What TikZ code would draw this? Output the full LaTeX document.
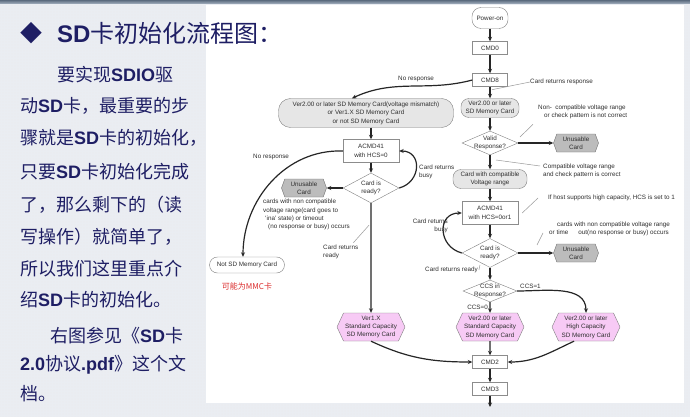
\documentclass[tikz,border=0pt]{standalone}
\usepackage{fontspec}
\setmainfont{Liberation Sans}
\newfontfamily\cjk{Noto Sans CJK SC}
\usetikzlibrary{positioning,shapes.geometric,shapes.symbols,arrows.meta,patterns}

\definecolor{slidenavy}{RGB}{30,30,100}
\definecolor{slidebg}{RGB}{234,237,242}
\definecolor{slidebar}{RGB}{112,132,156}
\definecolor{capsgray}{RGB}{230,230,230}
\definecolor{unusegray}{RGB}{188,188,188}
\definecolor{cardpink}{RGB}{247,202,245}
\definecolor{mmcred}{RGB}{220,45,45}

\newcommand\sdb[1]{{\normalfont\bfseries #1}}

\begin{document}
\begin{tikzpicture}[x=1pt,y=1pt,on grid,
    every node/.style={font=\fontsize{6.3}{8.4}\selectfont,text=black!82},
    cmdbox/.style={draw=black!45,fill=white,minimum width=35pt,minimum height=13pt,inner sep=1pt},
    ackbox/.style={draw=black!45,fill=white,minimum width=56pt,minimum height=23pt,inner sep=1pt,align=center},
    caps/.style={draw=black!50,fill=capsgray,rounded corners=8pt,inner sep=1pt,align=center},
    query/.style={diamond,aspect=2.3,draw=black!50,fill=white,inner sep=-5pt,minimum width=56pt,minimum height=26pt,align=center,font=\fontsize{6.3}{7.6}\selectfont},
    unusable/.style={signal,signal to=east and west,signal pointer angle=140,draw=black!55,fill=unusegray,minimum width=45pt,minimum height=18pt,inner sep=0.5pt,align=center},
    cardtype/.style={signal,signal to=east and west,signal pointer angle=130,draw=black!50,fill=cardpink,minimum width=68pt,minimum height=28pt,inner sep=0.5pt,align=center},
    flow/.style={-{Stealth[length=4.5pt,width=4pt]},line width=1.2pt,black!85},
    lead/.style={black!40,line width=0.5pt},
    note/.style={align=left,inner sep=0pt},
    para/.style={font=\cjk\fontsize{18}{18}\selectfont,text=slidenavy,anchor=west,inner sep=0pt},
  ]
  \useasboundingbox (0,0) rectangle (690,-417);
  % slide background
  \fill[slidebg] (0,0) rectangle (690,-417);
  \fill[pattern=dots,pattern color=black!8] (0,0) rectangle (690,-417);
  \fill[white] (206,-5) rectangle (684,-403);
  \shade[top color=slidebar!80!black,bottom color=slidebar!60] (0,0) rectangle (690,-4);

  % title and text
  \node[font=\cjk\fontsize{22}{22}\selectfont,text=slidenavy,inner sep=0pt] (bullet) at (31,-33) {◆};
  \node[font=\cjk\fontsize{24}{24}\selectfont,text=slidenavy,anchor=west,inner sep=0pt] (title) at (57,-33) {\sdb{SD}卡初始化流程图：};
  \node[para] (para1) at (57,-75) {要实现\sdb{SDIO}驱};
  \node[para] (para2) at (20,-106) {动\sdb{SD}卡，最重要的步};
  \node[para] (para3) at (20,-138) {骤就是\sdb{SD}卡的初始化，};
  \node[para] (para4) at (20,-172) {只要\sdb{SD}卡初始化完成};
  \node[para] (para5) at (20,-205) {了，那么剩下的（读};
  \node[para] (para6) at (20,-237) {写操作）就简单了，};
  \node[para] (para7) at (20,-269) {所以我们这里重点介};
  \node[para] (para8) at (20,-300) {绍\sdb{SD}卡的初始化。};
  \node[para] (para9) at (50,-336) {右图参见《\sdb{SD}卡};
  \node[para] (para10) at (20,-365) {\sdb{2.0}协议\sdb{.pdf}》这个文};
  \node[para] (para11) at (20,-394) {档。};

  % main column
  \node[caps,fill=white,minimum width=36pt,minimum height=21pt,rounded corners=9pt] (pwr) at (490,-18) {Power-on};
  \node[cmdbox,below=30pt of pwr] (cmd0) {CMD0};
  \node[cmdbox,below=32pt of cmd0] (cmd8) {CMD8};
  \node[caps,minimum width=58pt,minimum height=19pt,below=28pt of cmd8] (v2sd) {Ver2.00 or later\\SD Memory Card};
  \node[query,minimum height=24pt,below=35pt of v2sd] (valid) {Valid\\Response?};
  \node[caps,minimum width=74pt,minimum height=19pt,below=36pt of valid] (compat) {Card with compatible\\Voltage range};
  \node[ackbox,below=34pt of compat] (acmdb) {ACMD41\\with HCS=0or1};
  \node[query,minimum height=29pt,below=40pt of acmdb] (readyb) {Card is\\ready?};
  \node[query,minimum width=54pt,minimum height=22pt,below=38pt of readyb] (ccs) {CCS in\\Response?};
  \node[cardtype,below=36pt of ccs] (cardsc) {Ver2.00 or later\\Standard Capacity\\SD Memory Card};
  \node[cmdbox,below=35pt of cardsc] (cmd2) {CMD2};
  \node[cmdbox,below=27pt of cmd2] (cmd3) {CMD3};
  \coordinate[below=18pt of cmd3] (cont);

  % right column
  \node[unusable,right=86pt of valid] (unusea) {Unusable\\Card};
  \node[unusable,right=86pt of readyb] (unuseb) {Unusable\\Card};
  \node[cardtype,right=96pt of cardsc] (cardhc) {Ver2.00 or later\\High Capacity\\SD Memory Card};

  % left column
  \node[caps,minimum width=175pt,minimum height=29pt,rounded corners=12pt,below left=5pt and 124pt of v2sd] (mism) {Ver2.00 or later SD Memory Card(voltage mismatch)\\or Ver1.X SD Memory Card\\or not SD Memory Card};
  \node[ackbox,below right=38pt and 5pt of mism] (acmda) {ACMD41\\with HCS=0};
  \node[query,minimum height=30pt,below=37pt of acmda] (readya) {Card is\\ready?};
  \node[unusable,left=67pt of readya] (unusel) {Unusable\\Card};
  \node[caps,fill=white,minimum width=75pt,minimum height=16pt,below left=114pt and 124pt of acmda] (notsd) {Not SD Memory Card};
  \node[font=\cjk\fontsize{8}{8}\selectfont,text=mmcred,below=21pt of notsd] (mmc) {可能为MMC卡};
  \node[cardtype,left=119pt of cardsc] (cardv1) {Ver1.X\\Standard Capacity\\SD Memory Card};

  % notes
  \node[note,anchor=west] (noresp) at (398,-79) {No response};
  \node[note,anchor=west] (crresp) at (530,-82) {Card returns response};
  \node[note,anchor=west] (badvolt) at (538,-112) {Non-\ \ compatible voltage range\\\hspace*{6pt}or check pattern is not correct};
  \node[note,anchor=west] (goodvolt) at (543,-171) {Compatible voltage range\\and check pattern is correct};
  \node[note,anchor=west] (hcsnote) at (548,-198) {If host supports high capacity, HCS is set to 1};
  \node[note,anchor=west] (failb) at (549,-229) {\hspace*{8pt}cards with non compatible voltage range\\or time\hspace{10pt}out(no response or busy) occurs};
  \node[note,align=right,anchor=east] (busyb) at (448,-226) {Card returns\\busy};
  \node[note,anchor=west] (readyrb) at (425,-270) {Card returns ready};
  \node[note,anchor=west] (ccsone) at (520,-286) {CCS=1};
  \node[note,anchor=east] (ccszero) at (488,-307) {CCS=0};
  \node[note,anchor=west] (busya) at (419,-172) {Card returns\\busy};
  \node[note,anchor=west] (norespa) at (253,-157) {No response};
  \node[note,anchor=north west] (faila) at (263,-199) {cards with non compatible\\voltage range(card goes to\\\hspace*{2pt}`ina' state) or timeout\\\hspace*{5pt}(no response or busy) occurs};
  \node[note,anchor=west] (readyra) at (323,-252) {Card returns\\ready};

  % connectors
  \draw[flow] (pwr) -- (cmd0);
  \draw[flow] (cmd0) -- (cmd8);
  \draw[flow] (cmd8) -- (v2sd);
  \draw[flow] (cmd8.west) to[out=195,in=25] ([xshift=-14pt]mism.north);
  \draw[flow] (v2sd) -- (valid);
  \draw[flow] (valid) -- (unusea);
  \draw[flow] (valid) -- (compat);
  \draw[flow] (compat) -- (acmdb);
  \draw[flow] (acmdb) -- (readyb);
  \draw[flow] (readyb.west) to[out=165,in=180,looseness=1.6] (acmdb.west);
  \draw[flow] (readyb) -- (unuseb);
  \draw[flow] (readyb) -- (ccs);
  \draw[flow] (ccs) -- (cardsc);
  \draw[flow] (ccs.east) to[out=0,in=90] (cardhc.north);
  \draw[flow] (cardsc) -- (cmd2);
  \draw[flow] (cardv1.south) to[out=-25,in=180] (cmd2.west);
  \draw[flow] ([xshift=-12pt]cardhc.south) to[out=-155,in=0] (cmd2.east);
  \draw[flow] (cmd2) -- (cmd3);
  \draw[flow] (cmd3) -- (cont);
  \draw[flow] (mism.south -| acmda) -- (acmda);
  \draw[flow] (acmda) -- (readya);
  \draw[flow] (readya.east) to[out=15,in=0,looseness=1.6] (acmda.east);
  \draw[flow] (readya) -- (unusel);
  \draw[flow] (readya) -- (cardv1);
  \draw[flow] (acmda.west) to[out=178,in=90] ([xshift=-4pt]notsd.north);

  % leader lines
  \draw[lead] ([shift={(2pt,-3pt)}]cmd8.south) -- (crresp.west);
  \draw[lead] ([shift={(30pt,6pt)}]valid.center) -- ([shift={(-5pt,-5pt)}]badvolt.south west);
  \draw[lead] ([shift={(6pt,-17pt)}]valid.center) -- ([shift={(-3pt,5pt)}]goodvolt.west);
  \draw[lead] ([xshift=4pt]acmdb.east) -- ([xshift=-10pt]hcsnote.west);
  \draw[lead] ([shift={(47pt,8pt)}]readyb.center) -- ([shift={(-6pt,-4pt)}]failb.west);
  \draw[lead] ([shift={(-2pt,-22pt)}]readya.south) -- ([shift={(-5pt,2pt)}]readyra.north east);
  \draw[lead] ([xshift=1pt]readyrb.east) -- ([shift={(2pt,5pt)}]readyrb.east);
\end{tikzpicture}
\end{document}
